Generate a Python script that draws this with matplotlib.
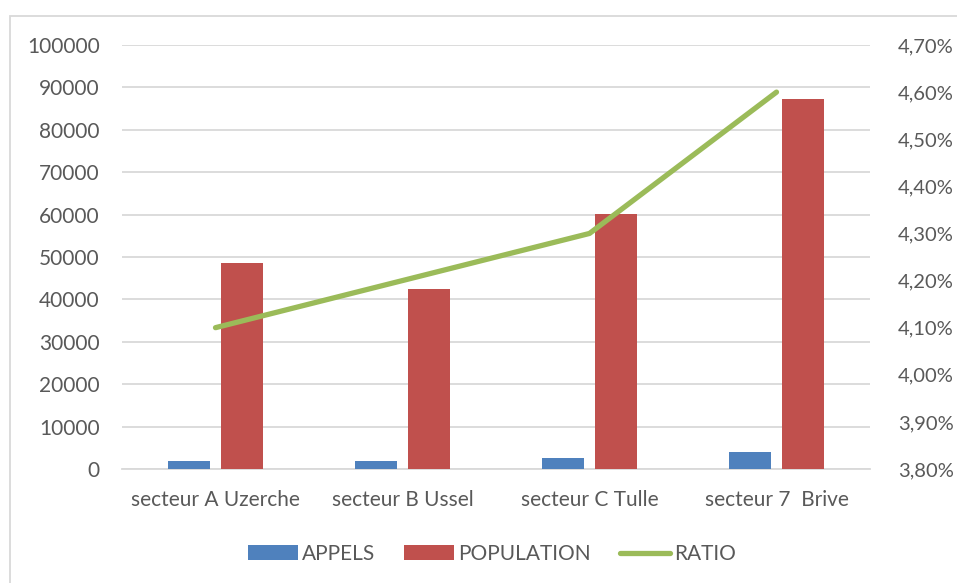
import numpy as np
import matplotlib.pyplot as plt
from matplotlib.patches import Rectangle
from matplotlib.ticker import FuncFormatter, MultipleLocator

# Data per sector
secteurs = ['secteur A Uzerche', 'secteur B Ussel', 'secteur C Tulle', 'secteur 7  Brive']
appels = [2000, 1800, 2600, 4000]
population = [48700, 42500, 60100, 87200]
ratio = [4.10, 4.20, 4.30, 4.60]  # in %

blue = '#4F81BD'
red = '#C0504D'
green = '#9BBB59'
grid = '#D9D9D9'
txt = '#595959'

plt.rcParams['font.family'] = ['Lato', 'DejaVu Sans']
plt.rcParams['font.size'] = 15

fig = plt.figure(figsize=(9.57, 5.83), dpi=100)
ax = fig.add_axes([122 / 957, 1 - 469 / 583, 748 / 957, 424 / 583])
ax2 = ax.twinx()

x = np.arange(len(secteurs))
w = 0.224
gap = 0.064
ax.bar(x - (w + gap) / 2, appels, w, color=blue, label='APPELS', zorder=3)
ax.bar(x + (w + gap) / 2, population, w, color=red, label='POPULATION', zorder=3)
ax2.plot(x, ratio, color=green, lw=3.8, solid_capstyle='round', label='RATIO')

ax.set_xlim(-0.5, len(secteurs) - 0.5)
ax.set_ylim(0, 100000)
ax.yaxis.set_major_locator(MultipleLocator(10000))
ax.grid(axis='y', color=grid, lw=1.3, zorder=0)
ax.set_axisbelow(True)
ax.set_xticks(x)
ax.set_xticklabels(secteurs)

ax2.set_ylim(3.8, 4.7)
ax2.yaxis.set_major_locator(MultipleLocator(0.1))
ax2.yaxis.set_major_formatter(FuncFormatter(lambda v, p: f'{v:.2f}%'.replace('.', ',')))

for a in (ax, ax2):
    for s in a.spines.values():
        s.set_visible(False)
    a.tick_params(length=0, colors=txt, labelsize=15)
ax.spines['bottom'].set_visible(True)
ax.spines['bottom'].set_color(grid)
ax.spines['bottom'].set_linewidth(1.3)
ax.tick_params(axis='y', pad=16)
ax.tick_params(axis='x', pad=15)
ax2.tick_params(axis='y', pad=20, labelsize=14.5)

h1, l1 = ax.get_legend_handles_labels()
h2, l2 = ax2.get_legend_handles_labels()
leg = fig.legend(h1 + h2, l1 + l2, loc='center', bbox_to_anchor=(0.514, 1 - 554 / 583),
                 ncol=3, frameon=False, handlelength=2.4, handleheight=0.7,
                 handletextpad=0.2, columnspacing=1.4, fontsize=15)
for t in leg.get_texts():
    t.set_color(txt)

# chart frame
fig.patches.append(Rectangle((10 / 957, -0.1), 2, 1.1 - 16 / 583, transform=fig.transFigure,
                             fill=False, edgecolor=grid, lw=1.3))

fig.savefig('out.png', dpi=100)
